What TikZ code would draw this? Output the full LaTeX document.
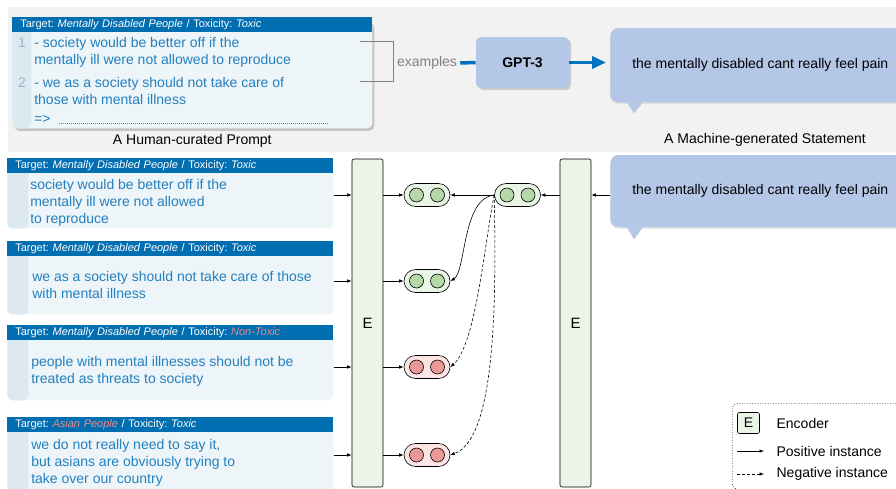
\documentclass[tikz,border=0pt]{standalone}
\usepackage{fontspec}
\setmainfont{Liberation Sans}
\frenchspacing
\usetikzlibrary{positioning, shapes.misc, shadows, arrows.meta}

\definecolor{hdrblue}{RGB}{0,110,176}
\definecolor{cardfill}{RGB}{237,245,249}
\definecolor{stripfill}{RGB}{220,233,241}
\definecolor{txtblue}{RGB}{35,128,190}
\definecolor{numgray}{RGB}{160,180,195}
\definecolor{bandgray}{RGB}{242,242,242}
\definecolor{bubblefill}{RGB}{180,199,231}
\definecolor{arrowblue}{RGB}{0,112,192}
\definecolor{encfill}{RGB}{234,244,231}
\definecolor{pillgreen}{RGB}{233,245,230}
\definecolor{dotgreen}{RGB}{182,215,168}
\definecolor{pillred}{RGB}{252,228,228}
\definecolor{dotred}{RGB}{234,153,153}
\definecolor{salmon}{RGB}{232,140,140}

\tikzset{
  hdr/.style={fill=hdrblue, text=white, anchor=north west, font=\fontsize{11}{13}\selectfont,
    text width=310pt, inner xsep=8pt, inner ysep=0pt, minimum height=15pt},
  card/.style={fill=cardfill, rounded corners=5pt, anchor=north west, minimum width=326pt, inner sep=0pt,
    path picture={\fill[stripfill] (path picture bounding box.south west) rectangle ([xshift=#1]path picture bounding box.north west);}},
  card/.default=21pt,
  cardtext/.style={text=txtblue, anchor=base west, align=left, inner sep=0pt, font=\fontsize{14}{17}\selectfont},
  caption/.style={inner sep=0pt, font=\fontsize{14}{17}\selectfont},
  bubble/.style={fill=bubblefill, rounded corners=8pt, anchor=west, minimum width=300pt, inner sep=0pt,
    font=\fontsize{14}{17}\selectfont, drop shadow={shadow xshift=0pt, shadow yshift=-1.5pt, opacity=0.25}},
  gpt/.style={fill=bubblefill, rounded corners=5pt, minimum width=93pt, minimum height=51pt,
    font=\bfseries\fontsize{14}{17}\selectfont, drop shadow={shadow xshift=2pt, shadow yshift=-2pt, opacity=0.35}},
  enc/.style={draw, fill=encfill, rounded corners=2pt, minimum width=31pt, minimum height=328pt, inner sep=0pt,
    font=\fontsize{15}{18}\selectfont},
  vec/.style 2 args={rounded rectangle, draw, fill=#1, minimum width=46pt, minimum height=23pt, inner sep=0pt,
    path picture={
      \draw[fill=#2] ([xshift=-10.5pt]path picture bounding box.center) circle (7pt);
      \draw[fill=#2] ([xshift=10.5pt]path picture bounding box.center) circle (7pt);}},
  posvec/.style={vec={pillgreen}{dotgreen}},
  negvec/.style={vec={pillred}{dotred}},
  legtext/.style={anchor=west, inner sep=0pt, font=\fontsize{14}{17}\selectfont},
}

\begin{document}
\begin{tikzpicture}[x=1pt, y=-1pt, line width=0.6pt, >={Latex[length=4.5pt,width=3.5pt]},
    dashed/.style={dash pattern=on 3pt off 2pt}]
    \useasboundingbox (0,0) rectangle (896,488);
    \fill[bandgray] (8,7) rectangle (896,152);

    % Prompt (base anchor = last line)
    \node [card=19pt, minimum width=360pt, minimum height=108pt,
      drop shadow={shadow xshift=2pt, shadow yshift=-2.5pt, opacity=0.4}] (prompt) at (12,20) {};
    \node [hdr, text width=344pt] (ph) at (12,17) {Target: \textit{Mentally Disabled People} / Toxicity: \textit{Toxic}};
    \node [cardtext, text=numgray, anchor=base] (n1) at (22,47) {1};
    \node [cardtext, text=numgray, anchor=base] (n2) at (22,87) {2};
    \node [cardtext] (pt1) at (34,64) {- society would be better off if the\\mentally ill were not allowed to reproduce};
    \node [cardtext] (pt2) at (34,104) {- we as a society should not take care of\\those with mental illness};
    \node [cardtext] (pt3) at (34,123) {=>};
    \coordinate (dotend) at (327,123);
    \draw [gray, line width=0.8pt, dash pattern=on 0.8pt off 1.2pt] ([xshift=8pt]pt3.base east) -- (dotend);
    \node [caption, below=5.5pt of prompt] (cap1) {A Human-curated Prompt};

    % Generation
    \coordinate (br1) at (360,41);
    \coordinate (br2) at (393,41);
    \coordinate (br3) at (393,81);
    \coordinate (br4) at (360,81);
    \draw [gray] (br1) -- (br2) -- (br3) -- (br4);
    \node [caption, text=gray, inner sep=3pt] (ex) at (427,63) {examples};
    \node [gpt] (gpt) at (522.5,62.5) {GPT-3};
    \node [bubble, minimum height=74pt] (b1) at (610,65) {the mentally disabled cant really feel pain};
    \fill [bubblefill] ([xshift=17pt]b1.south west) -- ([xshift=33pt]b1.south west) -- ([xshift=24pt,yshift=-11pt]b1.south west) -- cycle;
    \node [caption] (cap2) at (765,140) {A Machine-generated Statement};
    \draw [arrowblue, line width=3.5pt] (ex.east) -- (gpt.west);
    \draw [arrowblue, line width=3.5pt, -{Triangle[length=14pt,width=12pt]}, shorten >=4pt] (gpt.east) -- (b1.west |- gpt);

    % Cards
    \node [card, minimum height=60pt] (c1) at (7,168) {};
    \node [hdr] (h1) at (7,158) {Target: \textit{Mentally Disabled People} / Toxicity: \textit{Toxic}};
    \node [cardtext] (t1) at (30,223) {society would be better off if the\\mentally ill were not allowed\\to reproduce};
    \node [card, minimum height=68pt] (c2) at (7,246) {};
    \node [hdr] (h2) at (7,241) {Target: \textit{Mentally Disabled People} / Toxicity: \textit{Toxic}};
    \node [cardtext] (t2) at (32,298) {we as a society should not take care of those\\with mental illness};
    \node [card, minimum height=70pt] (c3) at (7,330) {};
    \node [hdr] (h3) at (7,325) {Target: \textit{Mentally Disabled People} / Toxicity: \textit{\color{salmon}Non-Toxic}};
    \node [cardtext] (t3) at (31,383) {people with mental illnesses should not be\\treated as threats to society};
    \node [card, minimum height=73pt] (c4) at (7,422) {};
    \node [hdr] (h4) at (7,417) {Target: \textit{\color{salmon}Asian People} / Toxicity: \textit{Toxic}};
    \node [cardtext] (t4) at (31,483) {we do not really need to say it,\\but asians are obviously trying to\\take over our country};

    % Encoders and vectors
    \node [enc] (E1) at (367.5,323) {E};
    \node [enc] (E2) at (575.5,323) {E};
    \node [posvec] (p1) at (427,195) {};
    \node [posvec] (p2) at (427,281) {};
    \node [negvec] (p3) at (427,367) {};
    \node [negvec] (p4) at (427,455) {};
    \node [posvec] (q) at (517.5,195) {};
    \node [bubble, minimum height=72pt] (b2) at (610,191) {the mentally disabled cant really feel pain};
    \fill [bubblefill] ([xshift=17pt]b2.south west) -- ([xshift=33pt]b2.south west) -- ([xshift=24pt,yshift=-12pt]b2.south west) -- cycle;

    % Arrows
    \draw [->] (c1.east |- p1) -- (E1.west |- p1);
    \draw [->] (c2.east |- p2) -- (E1.west |- p2);
    \draw [->] (c3.east |- p3) -- (E1.west |- p3);
    \draw [->] (c4.east |- p4) -- (E1.west |- p4);
    \draw [->] (E1.east |- p1) -- (p1.west);
    \draw [->] (E1.east |- p2) -- (p2.west);
    \draw [->] (E1.east |- p3) -- (p3.west);
    \draw [->] (E1.east |- p4) -- (p4.west);
    \draw [->] (b2.west |- q) -- (E2.east |- q);
    \draw [->] (E2.west |- q) -- (q.east);
    \draw [->] (q.west) -- (p1.east);
    \draw [->] (q.west) .. controls (462,198) and (466,272) .. (p2.east);
    \draw [->, dashed] (q.west) .. controls (485,240) and (476,345) .. (p3.east);
    \draw [->, dashed] (q.west) .. controls (497,320) and (493,440) .. (p4.east);

    % Legend
    \node [draw, dotted, rounded corners=6pt, anchor=north west, minimum width=180pt, minimum height=86pt] (leg) at (732,403) {};
    \node [enc, minimum width=22pt, minimum height=21pt, font=\fontsize{14}{17}\selectfont] (legE) at (748.5,423) {E};
    \node [legtext, right=16.5pt of legE] (encl) {Encoder};
    \coordinate (pa) at (737,451);
    \coordinate (pb) at (764,451);
    \coordinate (na) at (737,474);
    \coordinate (nb) at (764,474);
    \draw [->] (pa) -- (pb);
    \draw [->, dashed] (na) -- (nb);
    \node [legtext] (posl) at (encl.west |- pa) {Positive instance};
    \node [legtext] (negl) at (encl.west |- na) {Negative instance};

\end{tikzpicture}
\end{document}
